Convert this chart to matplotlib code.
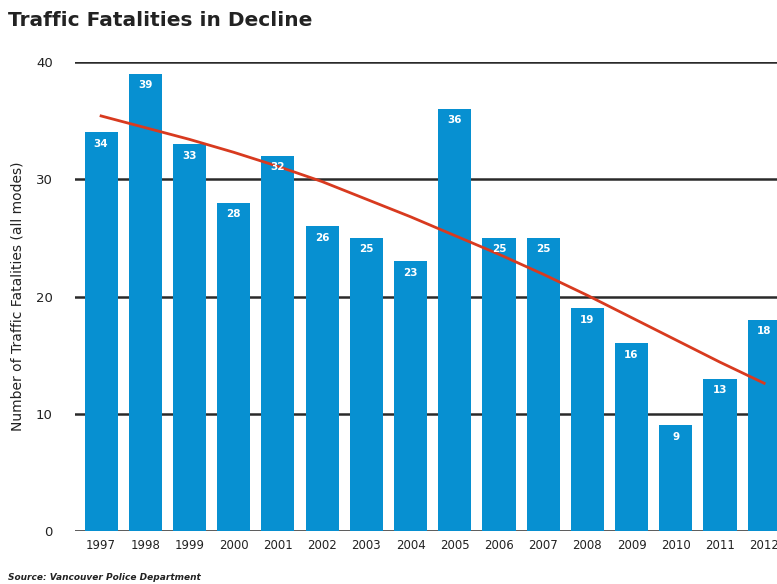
import numpy as np
import matplotlib.pyplot as plt

# Traffic fatalities per year (all modes)
anos = ["1997", "1998", "1999", "2000", "2001", "2002", "2003", "2004",
        "2005", "2006", "2007", "2008", "2009", "2010", "2011", "2012"]
mortes = [34, 39, 33, 28, 32, 26, 25, 23, 36, 25, 25, 19, 16, 9, 13, 18]

# trend curve, one point per year
tendencia = [35.4, 34.4, 33.4, 32.3, 31.1, 29.8, 28.3, 26.8,
             25.2, 23.6, 21.9, 20.1, 18.2, 16.3, 14.4, 12.6]

azul = "#0790d1"
vermelho = "#d83a1f"

fig = plt.figure(figsize=(7.77, 5.84), dpi=100)
ax = fig.add_axes([75 / 777, 53 / 584, 702 / 777, 469 / 584])

x = np.arange(len(anos))

# gridlines behind the bars
for v in [0, 10, 20, 30, 40]:
    ax.axhline(v, color="#2a2a2a", lw=1.8, zorder=0)

ax.bar(x, mortes, width=0.75, color=azul, zorder=2)
ax.plot(x, tendencia, color=vermelho, lw=2, zorder=3)

for xi, v in zip(x, mortes):
    ax.text(xi, v - 0.55, str(v), ha="center", va="top", color="white",
            fontsize=7.5, fontweight="bold", zorder=4)

ax.set_xlim(-0.59, 15.29)
ax.set_ylim(0, 40)
ax.set_yticks([0, 10, 20, 30, 40])
ax.set_xticks(x)
ax.set_xticklabels(anos, fontsize=8.5, color="#222222")
ax.tick_params(axis="both", length=0, pad=6)
ax.tick_params(axis="y", labelsize=9.5, labelcolor="#222222", pad=16)
for s in ax.spines.values():
    s.set_visible(False)
ax.set_ylabel("Number of Traffic Fatalities (all modes)", fontsize=10,
              color="#222222", labelpad=8)

fig.text(8 / 777, 1 - 20 / 584, "Traffic Fatalities in Decline",
         fontsize=14.5, fontweight="bold", color="#222222", va="center")
fig.text(8 / 777, 1 - 577 / 584, "Source: Vancouver Police Department",
         fontsize=6.5, fontstyle="italic", fontweight="bold",
         color="#222222", va="center")

fig.savefig("out.png", dpi=100)
